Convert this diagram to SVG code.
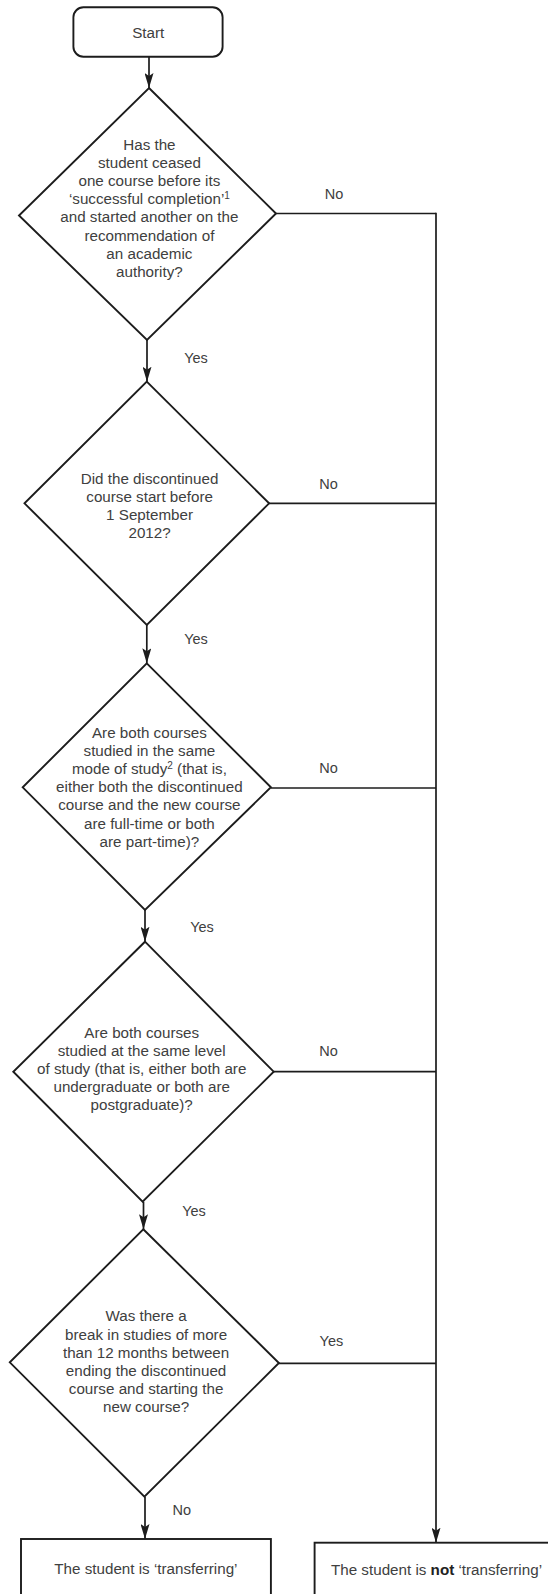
<svg xmlns="http://www.w3.org/2000/svg" width="548" height="1594" viewBox="0 0 548 1594">
<style>
.shape{fill:#fff;stroke:#1c1c1c;stroke-width:1.9;stroke-linejoin:miter}
.con{fill:none;stroke:#1c1c1c;stroke-width:1.7}
.t{font-family:"Liberation Sans",Arial,sans-serif;font-size:15.2px;fill:#404040;text-anchor:middle}
.lbl{font-family:"Liberation Sans",Arial,sans-serif;font-size:14.5px;fill:#404040;text-anchor:middle}
.sup{font-size:10px}
</style>
<defs>
<marker id="ah" viewBox="0 0 15 9" refX="15" refY="4.5" markerWidth="15" markerHeight="9" markerUnits="userSpaceOnUse" orient="auto">
<path d="M0,0 L15,4.5 L0,9 L3,4.5 Z" fill="#1c1c1c"/>
</marker>
</defs>
<rect width="548" height="1594" fill="#fff"/>

<g id="connectors">
<line class="con" x1="149" y1="56.7" x2="149" y2="88" marker-end="url(#ah)"/>
<line class="con" x1="147" y1="340" x2="147" y2="381.7" marker-end="url(#ah)"/>
<line class="con" x1="146.8" y1="625" x2="146.8" y2="663.3" marker-end="url(#ah)"/>
<line class="con" x1="145" y1="910" x2="145" y2="941.7" marker-end="url(#ah)"/>
<line class="con" x1="143.5" y1="1201.7" x2="143.5" y2="1229.3" marker-end="url(#ah)"/>
<line class="con" x1="145" y1="1496.7" x2="145" y2="1539" marker-end="url(#ah)"/>
<line class="con" x1="276" y1="213.5" x2="436" y2="213.5"/>
<line class="con" x1="269" y1="503.3" x2="436" y2="503.3"/>
<line class="con" x1="271" y1="788" x2="436" y2="788"/>
<line class="con" x1="273.7" y1="1071.7" x2="436" y2="1071.7"/>
<line class="con" x1="279" y1="1363.3" x2="436" y2="1363.3"/>
<line class="con" x1="436" y1="212.7" x2="436" y2="1542.7" marker-end="url(#ah)"/>
<text class="lbl" x="334" y="198.5">No</text>
<text class="lbl" x="196" y="363.3">Yes</text>
<text class="lbl" x="328.6" y="488.6">No</text>
<text class="lbl" x="196" y="644.3">Yes</text>
<text class="lbl" x="328.6" y="772.6">No</text>
<text class="lbl" x="202" y="932">Yes</text>
<text class="lbl" x="328.6" y="1056.3">No</text>
<text class="lbl" x="194" y="1216">Yes</text>
<text class="lbl" x="331.4" y="1346">Yes</text>
<text class="lbl" x="181.8" y="1515.3">No</text>
</g>

<g id="start">
<rect class="shape" x="73.4" y="7.3" width="149.2" height="49.4" rx="10" ry="10"/>
<text class="t" x="148.2" y="37.6">Start</text>
</g>

<g id="q1">
<polygon class="shape" points="149,88 276,213.5 147,340 19,215.5"/>
<text class="t" x="149.4" y="149.6">Has the</text>
<text class="t" x="149.4" y="167.8">student ceased</text>
<text class="t" x="149.4" y="186">one course before its</text>
<text class="t" x="149.4" y="204.2">‘successful completion’<tspan class="sup" dy="-5">1</tspan></text>
<text class="t" x="149.4" y="222.4">and started another on the</text>
<text class="t" x="149.4" y="240.6">recommendation of</text>
<text class="t" x="149.4" y="258.8">an academic</text>
<text class="t" x="149.4" y="277">authority?</text>
</g>

<g id="q2">
<polygon class="shape" points="146.8,381.7 269.1,503.3 146.8,625 24.5,503.3"/>
<text class="t" x="149.6" y="483.6">Did the discontinued</text>
<text class="t" x="149.6" y="501.8">course start before</text>
<text class="t" x="149.6" y="520">1 September</text>
<text class="t" x="149.6" y="538.2">2012?</text>
</g>

<g id="q3">
<polygon class="shape" points="146.8,663.3 270.9,787.3 145,910 22.7,787.3"/>
<text class="t" x="149.4" y="737.6">Are both courses</text>
<text class="t" x="149.4" y="755.8">studied in the same</text>
<text class="t" x="149.4" y="774">mode of study<tspan class="sup" dy="-5">2</tspan><tspan dy="5"> (that is,</tspan></text>
<text class="t" x="149.4" y="792.2">either both the discontinued</text>
<text class="t" x="149.4" y="810.4">course and the new course</text>
<text class="t" x="149.4" y="828.6">are full-time or both</text>
<text class="t" x="149.4" y="846.8">are part-time)?</text>
</g>

<g id="q4">
<polygon class="shape" points="145,941.7 273.7,1071.7 142.6,1201.7 13.3,1071.7"/>
<text class="t" x="141.7" y="1037.6">Are both courses</text>
<text class="t" x="141.7" y="1055.8">studied at the same level</text>
<text class="t" x="141.7" y="1074">of study (that is, either both are</text>
<text class="t" x="141.7" y="1092.2">undergraduate or both are</text>
<text class="t" x="141.7" y="1110.4">postgraduate)?</text>
</g>

<g id="q5">
<polygon class="shape" points="143.3,1229.3 278.9,1363 144.4,1496.7 9.8,1362.3"/>
<text class="t" x="146.1" y="1321.3">Was there a</text>
<text class="t" x="146.1" y="1339.5">break in studies of more</text>
<text class="t" x="146.1" y="1357.7">than 12 months between</text>
<text class="t" x="146.1" y="1375.9">ending the discontinued</text>
<text class="t" x="146.1" y="1394.1">course and starting the</text>
<text class="t" x="146.1" y="1412.3">new course?</text>
</g>

<g id="transferring">
<rect class="shape" x="21" y="1539" width="249.9" height="70"/>
<text class="t" x="145.9" y="1573.6">The student is ‘transferring’</text>
</g>

<g id="not-transferring">
<rect class="shape" x="314.6" y="1542.7" width="244" height="70"/>
<text class="t" x="436.5" y="1575">The student is <tspan font-weight="bold" fill="#222">not</tspan> ‘transferring’</text>
</g>
</svg>
